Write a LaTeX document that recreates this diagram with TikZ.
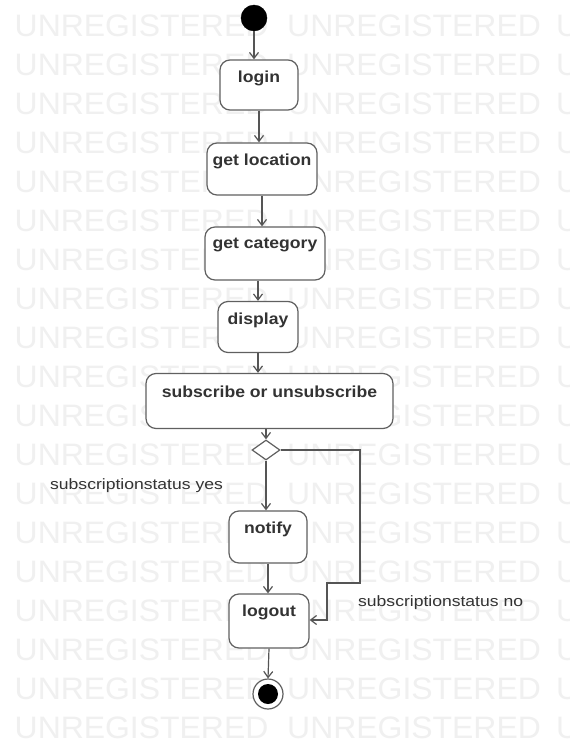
\documentclass[tikz,border=0pt]{standalone}
\usepackage{fontspec}
\setmainfont{Liberation Sans}
\usetikzlibrary{arrows.meta,shapes.geometric}
\definecolor{linec}{HTML}{555555}
\definecolor{boxc}{HTML}{606060}
\definecolor{txtc}{HTML}{333333}
\definecolor{wmc}{HTML}{F0F0F0}
\tikzset{
  actbox/.style={draw=boxc, line width=1.2pt, fill=white, rounded corners=10pt, inner sep=0pt},
  acttext/.style={text=txtc, font=\fontsize{16}{16}\selectfont\bfseries, inner sep=0pt},
  lbltext/.style={text=txtc, font=\fontsize{15}{15}\selectfont, inner sep=0pt},
  wmtext/.style={text=wmc, font=\fontsize{31}{31}\selectfont, inner sep=0pt, anchor=base west},
  arr/.style={draw=linec, line width=1.2pt, -{Straight Barb[length=6pt,width=9pt,line width=1.2pt]}},
}
\newcommand{\bx}[1]{\scalebox{1.1}[1]{#1}}
\newcommand{\lx}[1]{\scalebox{1.17}[1]{#1}}
\begin{document}
\begin{tikzpicture}[x=1pt,y=-1pt]
\useasboundingbox[fill=white] (0,0) rectangle (570,742);
% watermark
\foreach \k in {0,...,18}{
  \node[wmtext] (wma\k) at (14.5,{36+39*\k}) {\scalebox{1.03}[1]{UNREGISTERED}};
  \node[wmtext] (wmb\k) at (287,{36+39*\k}) {\scalebox{1.03}[1]{UNREGISTERED}};
  \node[wmtext] (wmc\k) at (556,{36+39*\k}) {\scalebox{1.03}[1]{U}};
}
% start
\node[circle, fill=black, draw=black, minimum size=26pt, inner sep=0pt] (start) at (254,18) {};
% boxes
\node[actbox, minimum width=78pt, minimum height=50pt] (login) at (259,85) {};
\node[acttext] (tlogin) at ([yshift=-19pt]login.north) {\bx{login}};
\node[actbox, minimum width=110pt, minimum height=52pt] (loc) at (262,169) {};
\node[acttext] (tloc) at ([yshift=-19pt]loc.north) {\bx{get location}};
\node[actbox, minimum width=120pt, minimum height=53pt] (cat) at (265,253.5) {};
\node[acttext] (tcat) at ([yshift=-19pt]cat.north) {\bx{get category}};
\node[actbox, minimum width=80pt, minimum height=51pt] (disp) at (258,327) {};
\node[acttext] (tdisp) at ([yshift=-19pt]disp.north) {\bx{display}};
\node[actbox, minimum width=247pt, minimum height=55pt] (sub) at (269.5,401) {};
\node[acttext] (tsub) at ([yshift=-19pt]sub.north) {\bx{subscribe or unsubscribe}};
\node[diamond, draw=boxc, line width=1.2pt, fill=white, minimum width=28pt, minimum height=20pt, inner sep=0pt, aspect=1.4] (dec) at (266,450) {};
\node[actbox, minimum width=78pt, minimum height=52pt] (notify) at (268,537) {};
\node[acttext] (tnotify) at ([yshift=-19pt]notify.north) {\bx{notify}};
\node[actbox, minimum width=80pt, minimum height=54pt] (logout) at (269,621) {};
\node[acttext] (tlogout) at ([yshift=-19pt]logout.north) {\bx{logout}};
% end
\node[circle, draw=boxc, line width=1.2pt, fill=white, minimum size=30pt, inner sep=0pt] (endo) at (268,694) {};
\node[circle, fill=black, minimum size=20pt, inner sep=0pt] (endi) at (endo.center) {};
% arrows
\draw[arr] (start.south) -- (start.south |- login.north);
\draw[arr] (login.south) -- (login.south |- loc.north);
\draw[arr] (loc.south) -- (loc.south |- cat.north);
\draw[arr] (cat.south -| disp.south) -- (disp.north);
\draw[arr] (disp.south) -- (disp.south |- sub.north);
\draw[arr] (sub.south -| dec.north) -- (dec.north);
\draw[arr] (dec.south) -- (dec.south |- notify.north);
\draw[arr] (notify.south) -- (notify.south |- logout.north);
\draw[arr] (logout.south) -- (endo.north);
\coordinate (n1) at (360,450);
\coordinate (n2) at (360,583);
\coordinate (n3) at (327,583);
\coordinate (n4) at (327,620);
\draw[arr] (dec.east) -- (n1) -- (n2) -- (n3) -- (n4) -- (n4 -| logout.east);
% labels
\node[lbltext, anchor=west] (lyes) at (50,486) {\lx{subscriptionstatus yes}};
\node[lbltext, anchor=west] (lno) at (358,603) {\lx{subscriptionstatus no}};
\end{tikzpicture}
\end{document}
